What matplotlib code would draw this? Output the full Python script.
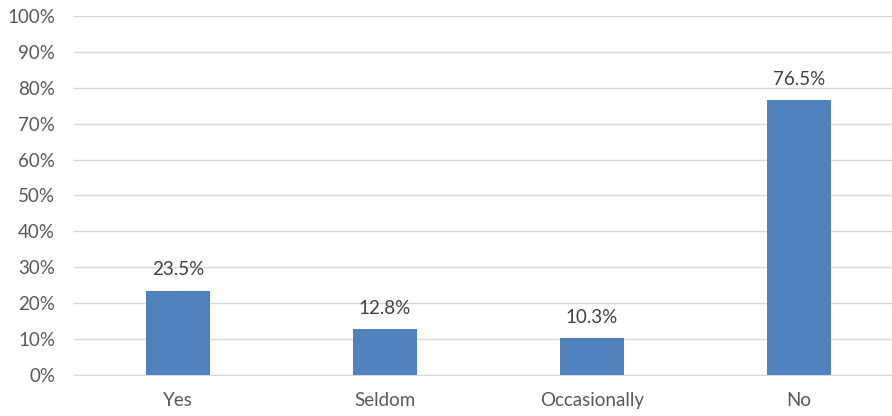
import matplotlib.pyplot as plt
from matplotlib.ticker import PercentFormatter

categories = ['Yes', 'Seldom', 'Occasionally', 'No']
values = [23.5, 12.8, 10.3, 76.5]

plt.rcParams['font.family'] = ['Lato', 'DejaVu Sans']

fig = plt.figure(figsize=(8.92, 4.16), dpi=100)
# plot area runs slightly past the right edge, like the cropped original
ax = fig.add_axes([0.0835, 0.0986, 0.928, 0.863])

x = range(len(categories))
bars = ax.bar(x, values, width=0.31, color='#4F81BD', zorder=3)
for b, v in zip(bars, values):
    ax.annotate(f'{v:.1f}%', (b.get_x() + b.get_width() / 2, v),
                xytext=(0, 9), textcoords='offset points',
                ha='center', va='bottom', fontsize=13.5, color='#404040')

ax.set_xlim(-0.5, len(categories) - 0.5)
ax.set_ylim(0, 100)
ax.set_yticks(range(0, 101, 10))
ax.yaxis.set_major_formatter(PercentFormatter(decimals=0))
ax.set_xticks(list(x))
ax.set_xticklabels(categories)
ax.tick_params(axis='both', length=0, labelsize=13.5, labelcolor='#595959')
ax.tick_params(axis='y', pad=14)
ax.tick_params(axis='x', pad=12)
ax.grid(axis='y', color='#D9D9D9', linewidth=1, zorder=0)
for s in ['top', 'right', 'left']:
    ax.spines[s].set_visible(False)
ax.spines['bottom'].set_color('#D9D9D9')

fig.savefig('out.png', dpi=100)
